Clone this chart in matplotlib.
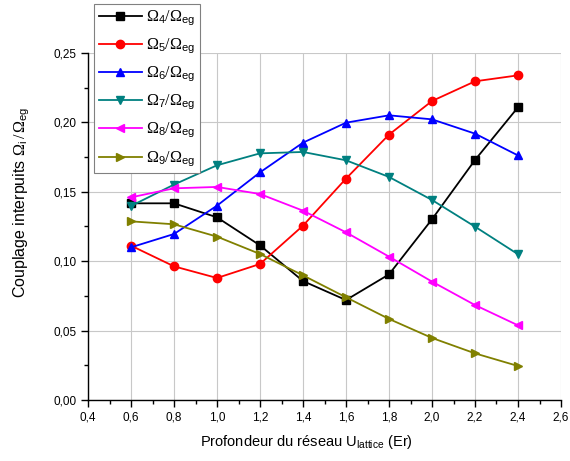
import matplotlib
matplotlib.use("Agg")
import matplotlib.pyplot as plt
from matplotlib.ticker import MultipleLocator, FuncFormatter

plt.rcParams['font.family'] = ['Liberation Sans', 'DejaVu Sans']
plt.rcParams['mathtext.fontset'] = 'custom'
plt.rcParams['mathtext.rm'] = 'Liberation Serif'
plt.rcParams['mathtext.it'] = 'Liberation Serif:italic'
plt.rcParams['mathtext.sf'] = 'Liberation Sans'

u_lattice = [0.6, 0.8, 1.0, 1.2, 1.4, 1.6, 1.8, 2.0, 2.2, 2.4]
omega4 = [0.1417, 0.1417, 0.1316, 0.1114, 0.0857, 0.0720, 0.0905, 0.1302, 0.1729, 0.2109]
omega5 = [0.1112, 0.0963, 0.0879, 0.0980, 0.1256, 0.1595, 0.1912, 0.2154, 0.2296, 0.2339]
omega6 = [0.1100, 0.1196, 0.1400, 0.1640, 0.1854, 0.1998, 0.2051, 0.2022, 0.1919, 0.1762]
omega7 = [0.1398, 0.1552, 0.1691, 0.1777, 0.1787, 0.1727, 0.1607, 0.1441, 0.1249, 0.1050]
omega8 = [0.1460, 0.1525, 0.1535, 0.1484, 0.1364, 0.1208, 0.1033, 0.0853, 0.0684, 0.0538]
omega9 = [0.1287, 0.1266, 0.1177, 0.1052, 0.0898, 0.0740, 0.0584, 0.0447, 0.0336, 0.0245]

series = [
    (omega4, r'$\Omega_{\mathsf{4}}/\Omega_{\mathsf{eg}}$', 'black', 's'),
    (omega5, r'$\Omega_{\mathsf{5}}/\Omega_{\mathsf{eg}}$', '#ff0000', 'o'),
    (omega6, r'$\Omega_{\mathsf{6}}/\Omega_{\mathsf{eg}}$', '#0000ff', '^'),
    (omega7, r'$\Omega_{\mathsf{7}}/\Omega_{\mathsf{eg}}$', '#008080', 'v'),
    (omega8, r'$\Omega_{\mathsf{8}}/\Omega_{\mathsf{eg}}$', '#ff00ff', '<'),
    (omega9, r'$\Omega_{\mathsf{9}}/\Omega_{\mathsf{eg}}$', '#808000', '>'),
]

fig = plt.figure(figsize=(5.7, 4.61), dpi=100)
ax = fig.add_axes([88/570, 61/461, (561-88)/570, (400-53)/461])

handles = []
for vals, lab, col, mk in series:
    h, = ax.plot(u_lattice, vals, color=col, marker=mk, markersize=6,
                 linewidth=1.3, label=lab, clip_on=False, zorder=3)
    handles.append(h)

ax.set_xlim(0.4, 2.6)
ax.set_ylim(0.0, 0.25)
ax.xaxis.set_major_locator(MultipleLocator(0.2))
ax.xaxis.set_minor_locator(MultipleLocator(0.1))
ax.yaxis.set_major_locator(MultipleLocator(0.05))
ax.yaxis.set_minor_locator(MultipleLocator(0.025))
ax.xaxis.set_major_formatter(FuncFormatter(lambda v, p: f"{v:.1f}".replace('.', ',')))
ax.yaxis.set_major_formatter(FuncFormatter(lambda v, p: f"{v:.2f}".replace('.', ',')))

ax.grid(True, which='major', color='#c8c8c8', linewidth=0.8)
ax.set_axisbelow(True)
for s in ['top', 'right']:
    ax.spines[s].set_visible(False)
for s in ['left', 'bottom']:
    ax.spines[s].set_linewidth(1.0)
ax.tick_params(which='major', direction='out', length=5, width=1.0, labelsize=8.5, pad=3)
ax.tick_params(which='minor', direction='out', length=3, width=1.0)

ax.set_xlabel(r'Profondeur du réseau U$_{\mathsf{lattice}}$ (Er)', fontsize=10.5)
ax.set_ylabel(r'Couplage interpuits $\Omega_{\mathsf{i}}\,/\,\Omega_{\mathsf{eg}}$', fontsize=11.5)
ax.xaxis.set_label_coords(0.461, -0.095)
ax.yaxis.set_label_coords(-0.119, 0.57)

leg = fig.legend(handles=handles, loc='upper left', bbox_to_anchor=(94/570, 1 - 4/461),
                 fontsize=11.5, handlelength=2.7, labelspacing=0.55, handletextpad=0.25,
                 borderpad=0.3, borderaxespad=0, fancybox=False, framealpha=1,
                 edgecolor='#808080')
leg.get_frame().set_linewidth(0.8)

fig.savefig('out.png', dpi=100)
